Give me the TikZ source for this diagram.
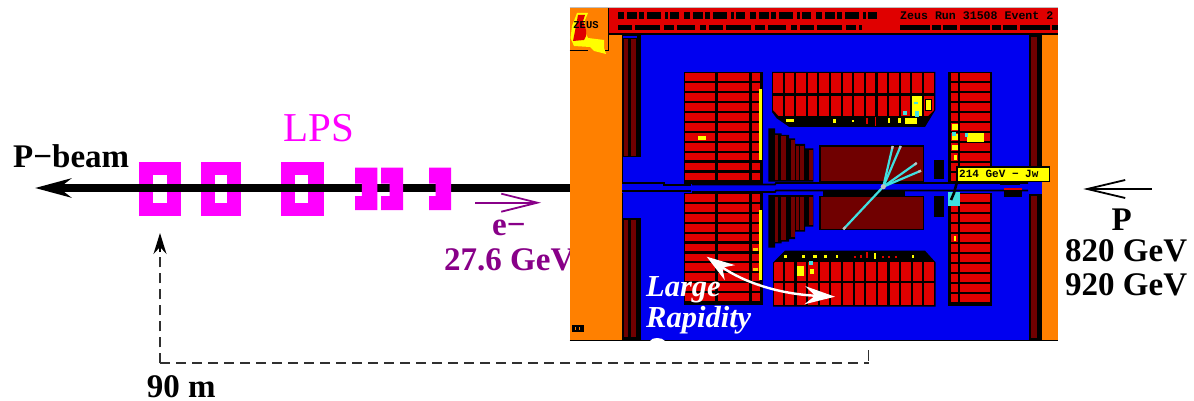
\documentclass[tikz,border=0pt]{standalone}
\usepackage{fontspec}
\setmainfont{Liberation Serif}
\newfontfamily\pixfont{Liberation Mono}
\usetikzlibrary{arrows.meta,calc}
\definecolor{detblue}{HTML}{0000F0}
\definecolor{detred}{HTML}{E00000}
\definecolor{detdark}{HTML}{700000}
\definecolor{detorange}{HTML}{FF8000}
\definecolor{detyellow}{HTML}{FFFF00}
\definecolor{detcyan}{HTML}{40E0E0}
\definecolor{lpspink}{HTML}{FF00FF}
\definecolor{epurple}{HTML}{880088}
\definecolor{dimgrey}{HTML}{303030}
\tikzset{
  label33/.style={anchor=base west,inner sep=0pt,font=\fontsize{33}{33}\selectfont\bfseries,text=black},
  elabel/.style={label33,text=epurple},
  lpslabel/.style={anchor=base west,inner sep=0pt,font=\fontsize{41}{41}\selectfont,text=lpspink},
  gaplabel/.style={anchor=base west,inner sep=0pt,font=\fontsize{30.5}{30.5}\selectfont\bfseries\itshape,text=white},
  magnet/.style={fill=lpspink,draw=none,rectangle,inner sep=0pt,minimum width=#1,minimum height=54.4pt},
  hole/.style={fill=white,draw=none,rectangle,inner sep=0pt,minimum width=#1,minimum height=27.6pt},
  openarrow/.style={-{Straight Barb[length=#1,width=18pt,line width=1.8pt]},line width=1.8pt},
  dimline/.style={draw=dimgrey,line width=1.7pt,dash pattern=on 10pt off 6pt},
  track/.style={draw=detcyan,line width=2.2pt},
  tip/.style={draw=lightgray,line width=2.2pt},
}
\begin{document}
\begin{tikzpicture}[x=1pt,y=-1pt]
\useasboundingbox (0,0) rectangle (1194,401);
\fill[white] (0,0) rectangle (1194,401);

% --- LPS stations crossed by the beam
\node[magnet=42.6pt] (m1) at (160,188.9) {};
\node[hole=14.4pt] (h1) at (160,188.9) {};
\node[magnet=40.3pt] (m2) at (221,188.9) {};
\node[hole=12.6pt] (h2) at (221,188.9) {};
\node[magnet=42.5pt] (m3) at (302.4,188.9) {};
\node[hole=12.6pt] (h3) at (301.5,188.9) {};

% --- beam
\coordinate (beamE) at (572,188);
\coordinate (beamW) at (35,188);
\draw[line width=7.4pt,-{Stealth[length=36pt,width=19pt,inset=12pt]}] (beamE) -- (beamW);

% --- C-shaped stations drawn over the beam
\foreach \xa/\xb/\xc in {355/361.8/377.4, 381/389.5/403, 429/435.6/451}{
  \fill[lpspink] (\xa,167.7) -- (\xc,167.7) -- (\xc,210) -- (\xa,210) -- (\xa,196) -- (\xb,196)
     -- (\xb,183.5) -- (\xa,183.5) -- cycle;
}

% --- left hand labels
\node[label33] (pbeam) at (13,167.3) {P−beam};
\node[lpslabel] (lps) at (283,141.7) {LPS};
\coordinate (eS) at (475.4,202.7);
\coordinate (eE) at (541,202.7);
\draw[openarrow=36pt,draw=epurple] (eS) -- (eE);
\node[elabel] (elec) at (492,235.7) {e−};
\node[elabel] (egev) at (444,270) {27.6 GeV};

% --- event display background
\fill[detblue] (622,35) rectangle (1042,340.5);
\fill[detorange] (569.5,35) rectangle (622,340);
\fill[detorange] (1042,35) rectangle (1058,340);
\draw[black,line width=1pt] (622,35) -- (622,340);
\draw[black,line width=1pt] (569.5,340.5) -- (1058,340.5);

% --- header
\fill[detred] (608.5,8.5) rectangle (1058,34);
\draw[black,line width=1.3pt] (608.5,8.5) -- (608.5,34) -- (1058,34);
\draw[lightgray,line width=.8pt] (569.5,7.6) -- (1058,7.6);
\draw[black,line width=7pt,dash pattern=on 6pt off 3pt on 10pt off 2pt on 5pt off 3pt on 14pt off 4pt on 3pt off 2pt on 9pt off 5pt]
  (618,16) -- (880,16);
\draw[black,line width=4.5pt,dash pattern=on 14pt off 3pt on 25pt off 4pt on 10pt off 3pt on 18pt off 5pt on 6pt off 3pt]
  (618,27.5) -- (862,27.5);
\draw[black,line width=4.5pt,dash pattern=on 30pt off 2pt on 9pt off 2pt on 14pt off 3pt]
  (900,27.5) -- (1058,27.5);
\begin{scope}
  \clip (608,8.5) rectangle (1058,22);
  \node[anchor=base west,inner sep=0pt,font=\pixfont\bfseries\fontsize{11.6}{12}\selectfont] (runlabel) at (900,19.5) {Zeus Run 31508 Event  2};
\end{scope}

% --- logo
\fill[detorange] (569.5,8) rectangle (608,50);
\draw[black,line width=1.2pt] (569.5,50.5) -- (588,50.5);
\draw[black,line width=1.2pt] (602,50.5) -- (608.5,50.5) -- (608.5,34);
\fill[detyellow] (577,13) -- (588,13) -- (585,20) -- (584,30) -- (588,38) -- (604,40) -- (604,48) -- (606,54) -- (594,51) -- (590,47) -- (574,46) -- (570.5,38) -- (572,26) -- cycle;
\fill[detred] (578,15) -- (585,15) -- (583,21) -- (586,30) -- (586,36) -- (584,40) -- (573,41) -- (575,31) -- cycle;
\node[inner sep=0pt,font=\pixfont\bfseries\fontsize{10.5}{10.5}\selectfont] (zeus) at (586,25.5) {ZEUS};
\fill[black] (572,324.5) rectangle (584,332);
\foreach \x in {575,579}{\fill[detorange] (\x,326.5) rectangle (\x+1,330);}

% --- outer dark columns
\fill[black] (622,35.5) rectangle (641,157);
\fill[detblue] (623,36) rectangle (637,38.5);
\foreach \x/\w in {623.5/4.8,631/4.7}{\fill[detdark] (\x,39) rectangle (\x+\w,156);}
\fill[black] (622,218) rectangle (641,340);
\foreach \x/\w in {623.5/4.8,631/4.7}{\fill[detdark] (\x,220) rectangle (\x+\w,337);}
\fill[black] (1028.5,35) rectangle (1041.7,175);
\fill[detdark] (1030.7,37) rectangle (1037.3,173);
\fill[black] (1028.5,194) rectangle (1041.7,340);
\fill[detdark] (1030.7,196) rectangle (1037.3,338);

% --- rear calorimeter (two halves)
\foreach \ys in {73.3,194}{
  \fill[black] (684.2,\ys-1.3) rectangle (763,\ys+111);
  \foreach \r in {0,...,10}{
    \pgfmathsetmacro{\ya}{\ys+\r*9.92}
    \pgfmathsetmacro{\yb}{\ya+7.8}
    \fill[detred] (685.3,\ya) rectangle (715.2,\yb);
    \fill[detred] (717.7,\ya) rectangle (749.2,\yb);
    \fill[detred] (751.7,\ya) rectangle (760,\yb);
  }
}
\fill[detyellow] (759.4,89.3) rectangle (761.6,160);
\fill[detyellow] (759.4,210) rectangle (761.6,280);
\fill[detyellow] (697.7,135.7) rectangle (705.7,140);
\fill[detyellow!60!detorange] (753.3,248) rectangle (757.7,250.5);
\fill[detyellow!60!detorange] (753.3,268) rectangle (757.7,270.5);

% --- forward calorimeter (two halves)
\foreach \ys in {73.3,194}{
  \fill[black] (948,\ys-1.3) rectangle (991.7,\ys+111.5);
  \foreach \r in {0,...,10}{
    \pgfmathsetmacro{\ya}{\ys+\r*10}
    \pgfmathsetmacro{\yb}{\ya+7.9}
    \fill[detred] (951,\ya) rectangle (958,\yb);
    \fill[detred] (960,\ya) rectangle (990,\yb);
  }
}
\fill[detyellow] (952,124) rectangle (958,130);
\fill[detyellow] (952,134) rectangle (958,140);
\fill[detyellow] (952,145) rectangle (958,150);
\fill[detyellow] (953.5,155) rectangle (956.5,160);
\fill[detyellow] (967.3,133.5) rectangle (984,141.7);
\fill[detcyan] (952,132) rectangle (955.5,136.5);
\fill[detcyan] (964.5,133.5) rectangle (968,137);
\fill[detyellow] (953.5,235.5) rectangle (956,241);

% --- barrel calorimeter, upper part
\fill[black] (772,72) -- (935.3,72) -- (935.3,110) -- (925,127) -- (789.3,127) -- (776.7,118.3) -- (772,112) -- cycle;
\begin{scope}
  \clip (773,73) -- (934,73) -- (934,110) -- (927.5,116.5) -- (779,116.5) -- (773,110) -- cycle;
  \foreach \i in {0,...,13}{
    \pgfmathsetmacro{\x}{773+\i*11.62}
    \fill[detred] (\x,73.3) rectangle (\x+9.5,93.3);
    \fill[detred] (\x,95.7) rectangle (\x+9.5,116.2);
  }
\end{scope}
\fill[detyellow] (912,95.7) rectangle (921.5,116.2);
\fill[black] (924.6,99) rectangle (932.2,111);
\fill[detyellow] (925.7,100) rectangle (931.2,110);
\fill[detyellow] (786,119.5) rectangle (794,122);
\fill[detyellow] (833,119.5) rectangle (835.5,123.5);
\fill[detyellow] (851.5,120) rectangle (853.5,122);
\fill[detred] (866,118) rectangle (867.5,124);
\fill[detred] (874.5,117.5) rectangle (876,126);
\fill[detyellow] (887.5,118.5) rectangle (889.5,123);
\fill[detyellow] (898,118.5) rectangle (900.5,123);
\fill[detyellow] (905,118) rectangle (917,124);
\fill[detcyan] (903,111) rectangle (907,115.5);
\fill[detcyan] (915,111) rectangle (919,117);
\fill[detcyan] (914,102) rectangle (918,104);

% --- barrel calorimeter, lower part
\fill[black] (773,262.5) -- (785,250.7) -- (925,250.7) -- (935.7,262.5) -- (935.7,306.7) -- (773,306.7) -- cycle;
\begin{scope}
  \clip (774,263) -- (785,253) -- (925,253) -- (934.5,263) -- (934.5,305.5) -- (774,305.5) -- cycle;
  \foreach \i in {0,...,13}{
    \pgfmathsetmacro{\x}{773.3+\i*11.62}
    \fill[detred] (\x,261.7) rectangle (\x+9.5,280.7);
    \fill[detred] (\x,282.7) rectangle (\x+9.5,305);
  }
\end{scope}
\fill[detyellow] (797.3,266) rectangle (804,276);
\fill[detyellow] (810,269) rectangle (814,274);
\foreach \x/\w in {784/2.5,802/3,813/4,824/3,836/2,912/2}{\fill[detyellow] (\x,254.5) rectangle (\x+\w,258);}
\fill[detcyan] (808.5,261) rectangle (812.5,265);
\foreach \x/\h in {854/2,860/3,866/6,882/2,888/2,895/2}{\fill[detred] (\x,258-\h) rectangle (\x+1.6,258);}
\fill[detyellow] (874,252.5) rectangle (876.2,259);

% --- stepped inner columns
\fill[black] (768.3,128.3) -- (775,128.3) -- (775,133.3) -- (781.7,133.3) -- (781.7,135) -- (789,135) -- (789,138.3) -- (795,138.3) -- (795,144) -- (805,144) -- (805,148.3) -- (813.3,148.3) -- (813.3,181.7) -- (768.3,181.7) -- cycle;
\foreach \x/\w/\y in {775/3.3/135,780.7/5.3/136.5,790.7/4/140,796/3.3/146,800/4/146,809.3/3.4/150}{
  \fill[detdark] (\x,\y) rectangle (\x+\w,180);
}
\fill[black] (768.3,195) -- (813.3,195) -- (813.3,226.7) -- (805,226.7) -- (805,231.7) -- (795,231.7) -- (795,239) -- (789,239) -- (789,241.7) -- (781.7,241.7) -- (781.7,243.3) -- (775,243.3) -- (775,247.7) -- (768.3,247.7) -- cycle;
\foreach \x/\w/\y in {775/3.3/241.5,780.7/5.3/240,790.7/4/237,796/3.3/230,800/4/230,809.3/3.4/225}{
  \fill[detdark] (\x,197) rectangle (\x+\w,\y);
}

% --- central dark boxes
\draw[black,line width=1.3pt,fill=detdark] (820,146) rectangle (923.3,181.7);
\draw[black,line width=1.3pt,fill=detdark] (820,196.7) rectangle (923.3,229.3);
\fill[black] (934,160) rectangle (943.7,179.3);
\fill[black] (934,196) rectangle (943.7,217);

% --- beam pipe
\fill[detblue] (622,184) rectangle (1028,192.5);
\draw[black,line width=1.7pt] (622,183) -- (664,183) -- (664,185.2) -- (691,185.2);
\draw[black,line width=1.7pt] (692,184.5) -- (775,184.5) -- (776,183) -- (1028,183);
\draw[black,line width=1.7pt] (622,191) -- (691,191);
\draw[black,line width=1.7pt] (692,192) -- (775,192) -- (776,190.5) -- (1028,190.5);
\fill[black] (823,191) rectangle (905,196);
\fill[black] (1000,179.5) rectangle (1020,184.5);
\fill[black] (1004,188) rectangle (1022,197);
\fill[detred] (1004,188) rectangle (1022,190);

% --- tracks
\coordinate (vtx) at (883.3,186.7);
\coordinate (t1) at (892.7,146);
\coordinate (t2) at (900.7,146);
\coordinate (t3) at (916.7,163);
\coordinate (t4) at (921,170.7);
\coordinate (t5) at (843.3,229.3);
\foreach \t in {t1,t2,t3,t4,t5}{
  \draw[track] (vtx) -- (\t);
  \draw[tip] ($(\t)!3pt!(vtx)$) -- (\t);
}
\fill[lightgray] (vtx) circle (2.6);

% --- energy label and its hit
\fill[detcyan] (947.7,191.7) rectangle (960,206);
\draw[black,line width=2.6pt] (951,200) -- (954,193) -- (958,178);
\fill[detyellow,draw=black,line width=1.3pt] (957,167) rectangle (1049.5,181.3);
\node[inner sep=0pt,anchor=base west,font=\pixfont\bfseries\fontsize{11}{11}\selectfont] (jet) at (959,178) {214 GeV − Jw};

% --- large rapidity gap
\node[gaplabel] (large) at (646,296.5) {Large};
\node[gaplabel] (rapidity) at (646,327.5) {Rapidity};
\fill[white] (650,341) .. controls (652,337) and (662,337) .. (665,341) -- cycle;
\coordinate (gapA) at (706.7,256.7);
\coordinate (gapB) at (835,296.7);
\draw[white,line width=2.4pt,{Stealth[length=28pt,width=18pt,inset=9pt]}-{Stealth[length=30pt,width=18pt,inset=10pt]}]
  (gapA) .. controls (745,283) and (780,294) .. (gapB);

% --- 90 m dimension
\coordinate (dimA) at (868.5,350);
\coordinate (dimB) at (868.5,363.3);
\coordinate (dimC) at (160,363.3);
\coordinate (dimD) at (160,252);
\coordinate (dimTip) at (160,233);
\draw[dimgrey,line width=1.7pt] (dimA) -- (868.5,360.5);
\draw[dimline] (dimC) -- (dimB);
\draw[dimline] (dimC) -- (dimD);
\draw[black,line width=1.5pt,-{Stealth[length=21pt,width=13pt,inset=7pt]}] (dimD) -- (dimTip);
\node[label33] (ninety) at (146.7,397) {90 m};

% --- proton side labels
\coordinate (pS) at (1151.7,189);
\coordinate (pE) at (1083.3,189);
\draw[openarrow=38pt,draw=black] (pS) -- (pE);
\node[label33,anchor=base] (plab) at (1121.7,230) {P};
\node[label33] (e820) at (1065,261.7) {820 GeV};
\node[label33] (e920) at (1065,295.7) {920 GeV};
\end{tikzpicture}
\end{document}
